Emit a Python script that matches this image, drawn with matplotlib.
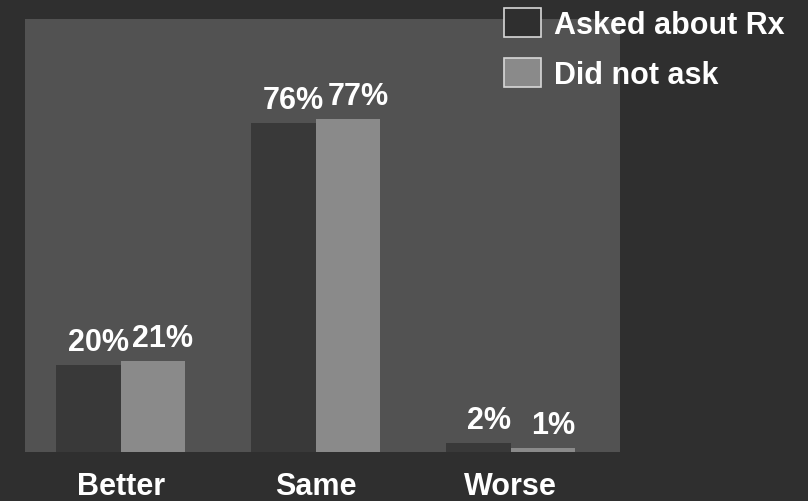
import matplotlib
matplotlib.use("Agg")
import matplotlib.pyplot as plt
from matplotlib.patches import Patch
import numpy as np

plt.rcParams['font.family'] = ['Liberation Sans', 'DejaVu Sans']

categories = ["Better", "Same", "Worse"]
asked = [20, 76, 2]
did_not_ask = [21, 77, 1]
series_names = ["Asked about Rx", "Did not ask"]

fig_bg = "#2f2f2f"
plot_bg = "#525252"
dark_bar = "#393939"
light_bar = "#8a8a8a"

fig = plt.figure(figsize=(8.08, 5.02), dpi=100, facecolor=fig_bg)
ax = fig.add_axes([25 / 808, 49 / 502, 595 / 808, 433 / 502])
ax.set_facecolor(plot_bg)

x = np.arange(len(categories))
w = 0.33
b1 = ax.bar(x - w / 2, asked, w, color=dark_bar, edgecolor="none")
b2 = ax.bar(x + w / 2, did_not_ask, w, color=light_bar, edgecolor="none")

for bars, vals in ((b1, asked), (b2, did_not_ask)):
    for bar, v in zip(bars, vals):
        ax.annotate(f"{v}%", (bar.get_x() + bar.get_width() / 2, v),
                    xytext=(10, 8), textcoords="offset pixels",
                    ha="center", va="bottom", color="white",
                    fontsize=22, fontweight="bold")

ax.set_xlim(-0.49, 2.56)
ax.set_ylim(0, 100)
ax.set_xticks(x)
ax.set_xticklabels(categories, color="white", fontsize=22, fontweight="bold")
ax.tick_params(axis="x", length=0, pad=14)
ax.set_yticks([])
for s in ax.spines.values():
    s.set_visible(False)

handles = [Patch(facecolor=fig_bg, edgecolor="#d8d8d8", linewidth=1.2),
           Patch(facecolor=light_bar, edgecolor="#d8d8d8", linewidth=1.2)]
fig.legend(handles, series_names, loc="upper left",
           bbox_to_anchor=(489 / 808, 1 + 6 / 502), frameon=False,
           borderpad=0, handlelength=1.2, handleheight=1.05,
           handletextpad=0.42, labelspacing=0.6,
           prop={"size": 22, "weight": "bold"}, labelcolor="white")

fig.savefig("out.png", dpi=100, facecolor=fig_bg)
